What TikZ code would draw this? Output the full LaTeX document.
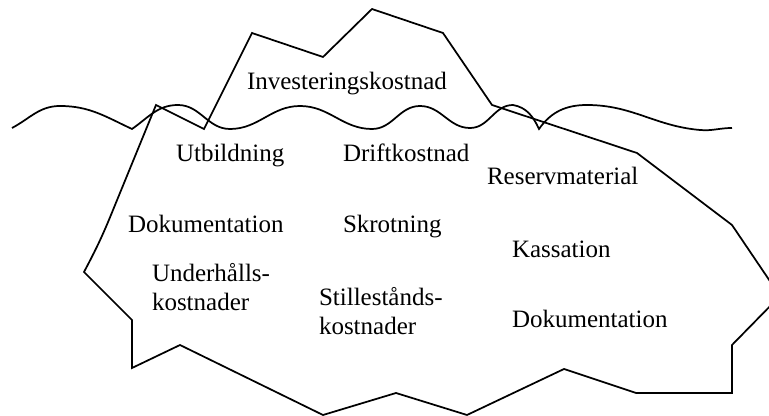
\documentclass[tikz,border=0pt]{standalone}
\usepackage{fontspec}
\setmainfont{Liberation Serif}
\begin{document}
\begin{tikzpicture}[x=0.75pt,y=-0.75pt,
  outline/.style={line width=1.3pt,line join=miter,black},
  label/.style={anchor=base west,inner sep=0pt,outer sep=0pt,
    font=\fontsize{18.75}{21.75}\selectfont,align=left}]
\useasboundingbox (0,0) rectangle (769,416);

% iceberg outline
\draw[outline]
  (156,105) -- (204,129) -- (252,33) -- (323,57) -- (372,9) -- (443,33)
  -- (492,105) -- (637,153) -- (732,225) -- (780,296) -- (732,345)
  -- (732,393) -- (636,393) -- (564,369) -- (467,415) -- (396,393)
  -- (323,415) -- (180,345) -- (132,368) -- (132,320) -- (84,272)
  to[out=62,in=-112] (113,210) -- cycle;

% water surface
\draw[outline]
  (12,128) to[out=28,in=180] (60,106)
  to[out=0,in=155] (132,129)
  to[out=35,in=180] (178,105)
  to[out=0,in=180] (230,129)
  to[out=0,in=180] (300,106)
  to[out=0,in=180] (372,129)
  to[out=0,in=180] (420,106)
  to[out=0,in=180] (470,128)
  to[out=0,in=180] (513,105)
  to[out=-10,in=115] (539,129)
  to[out=55,in=180] (587,105)
  to[out=0,in=175] (700,130)
  to[out=-5,in=180] (732,128);

% cost items
\node[label] (inv) at (247,90) {Investeringskostnad};
\node[label] (utb) at (176,162) {Utbildning};
\node[label] (drift) at (343,162) {Driftkostnad};
\node[label] (res) at (487,185) {Reservmaterial};
\node[label] (dok1) at (128,233) {Dokumentation};
\node[label] (skrot) at (343,233) {Skrotning};
\node[label] (kass) at (512,258) {Kassation};
\node[label] (uh1) at (152,282) {Underhålls-};
\node[label] (uh2) at (152,311) {kostnader};
\node[label] (st1) at (319,306) {Stillestånds-};
\node[label] (st2) at (319,335) {kostnader};
\node[label] (dok2) at (512,328) {Dokumentation};
\end{tikzpicture}
\end{document}
